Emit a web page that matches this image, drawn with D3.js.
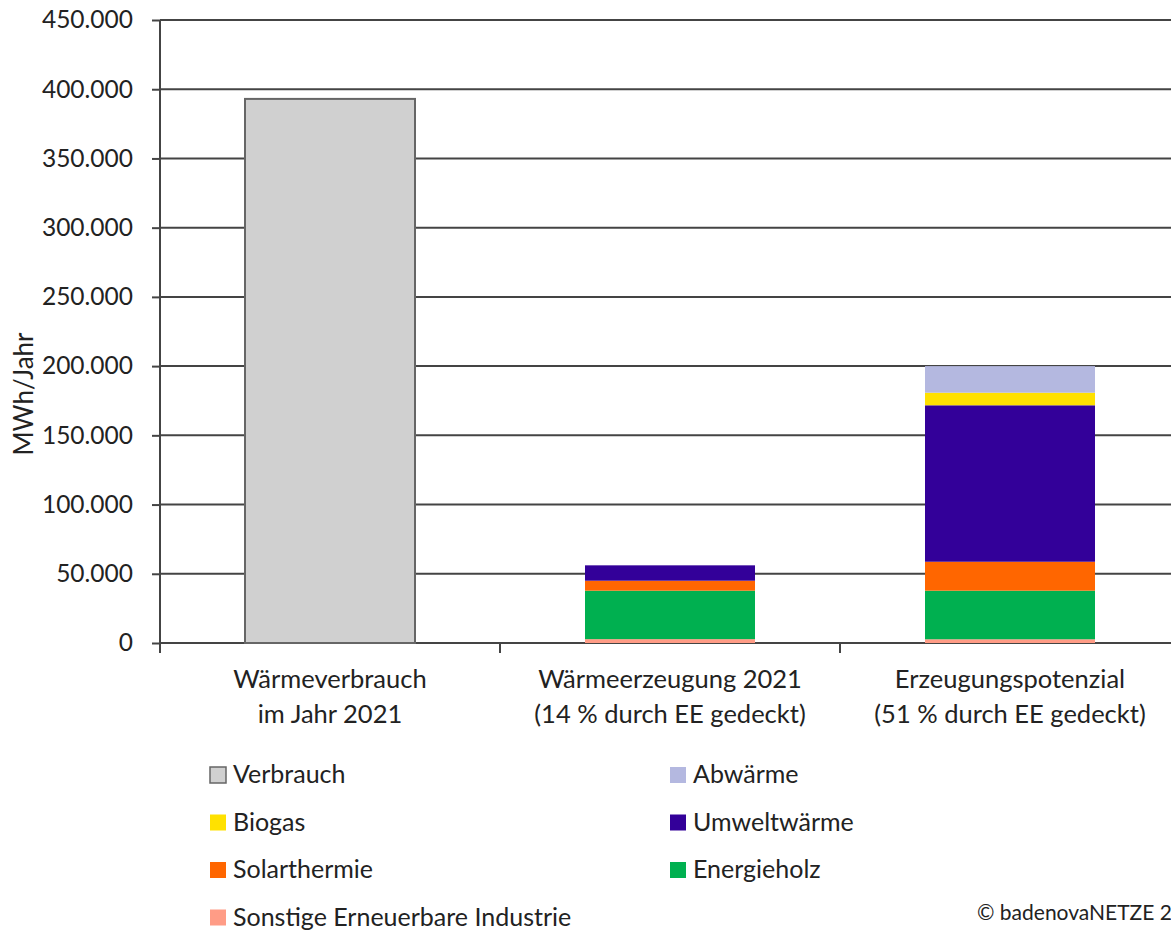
<!DOCTYPE html>
<html>
<head>
<meta charset="utf-8">
<script src="https://cdn.jsdelivr.net/npm/d3@7"></script>
<style>
  html, body { margin: 0; padding: 0; background: #fff; }
  svg { display: block; font-family: Lato, "Open Sans", sans-serif; }
</style>
</head>
<body>
<svg id="chart" width="1171" height="931"></svg>
<script>
// Categories (two-line labels) and series values in MWh/Jahr
const categories = ["verbrauch", "erzeugung", "potenzial"];
const categoryLabels = [
  ["Wärmeverbrauch", "im Jahr 2021"],
  ["Wärmeerzeugung 2021", "(14 % durch EE gedeckt)"],
  ["Erzeugungspotenzial", "(51 % durch EE gedeckt)"]
];
const seriesNames = ["Sonstige Erneuerbare Industrie", "Energieholz", "Solarthermie", "Umweltwärme", "Biogas", "Abwärme"];
const verbrauch = [393000, 0, 0];
const sonstige = [0, 2800, 2700];
const energieholz = [0, 35000, 35100];
const solarthermie = [0, 7200, 20900];
const umweltwaerme = [0, 11100, 113000];
const biogas = [0, 0, 9100];
const abwaerme = [0, 0, 19200];
const yTicks = [0, 50000, 100000, 150000, 200000, 250000, 300000, 350000, 400000, 450000];
const legendOrder = ["Verbrauch", "Abwärme", "Biogas", "Umweltwärme", "Solarthermie", "Energieholz", "Sonstige Erneuerbare Industrie"];

const colors = {
  "Verbrauch": "#d0d0d0",
  "Abwärme": "#b4b8e0",
  "Biogas": "#ffe100",
  "Umweltwärme": "#330099",
  "Solarthermie": "#ff6600",
  "Energieholz": "#00b050",
  "Sonstige Erneuerbare Industrie": "#ff9c86"
};

const rows = categories.map((c, i) => ({
  key: c,
  "Sonstige Erneuerbare Industrie": sonstige[i],
  "Energieholz": energieholz[i],
  "Solarthermie": solarthermie[i],
  "Umweltwärme": umweltwaerme[i],
  "Biogas": biogas[i],
  "Abwärme": abwaerme[i]
}));

const svg = d3.select("#chart");
const plotLeft = 160, plotRight = 1180, plotTop = 20, plotBottom = 643;

const x = d3.scaleBand().domain(categories).range([plotLeft, plotRight]).paddingInner(0.5).paddingOuter(0.25);
const y = d3.scaleLinear().domain([0, 450000]).range([plotBottom, plotTop]);

const fmt = d => d3.format(",")(d).replace(/,/g, ".");

// horizontal gridlines
svg.append("g").selectAll("line").data(yTicks).join("line")
  .attr("x1", plotLeft).attr("x2", plotRight)
  .attr("y1", d => y(d)).attr("y2", d => y(d))
  .attr("stroke", "#444").attr("stroke-width", 2);

// y axis tick marks and labels
const yAxis = svg.append("g").attr("transform", `translate(${plotLeft},0)`)
  .call(d3.axisLeft(y).tickValues(yTicks).tickSize(8).tickPadding(19).tickFormat(fmt));
yAxis.select(".domain").remove();
yAxis.selectAll(".tick line").attr("stroke", "#444").attr("stroke-width", 2);
yAxis.selectAll(".tick text").attr("font-size", 24.5).attr("fill", "#222")
  .attr("font-family", "Lato, sans-serif");

// vertical axis line
svg.append("line").attr("x1", plotLeft).attr("x2", plotLeft).attr("y1", plotTop).attr("y2", plotBottom + 10)
  .attr("stroke", "#444").attr("stroke-width", 2);

// category separator ticks, halfway between bands
const sepX = categories.slice(1).map(c => x(c) - (x.step() - x.bandwidth()) / 2);
svg.append("g").selectAll("line").data(sepX).join("line")
  .attr("x1", d => d).attr("x2", d => d).attr("y1", plotBottom).attr("y2", plotBottom + 10)
  .attr("stroke", "#444").attr("stroke-width", 2);

// consumption bar
svg.append("g").selectAll("rect").data(categories.filter((c, i) => verbrauch[i] > 0)).join("rect")
  .attr("x", c => x(c)).attr("width", x.bandwidth())
  .attr("y", c => y(verbrauch[categories.indexOf(c)]))
  .attr("height", c => y(0) - y(verbrauch[categories.indexOf(c)]))
  .attr("fill", colors["Verbrauch"]).attr("stroke", "#666").attr("stroke-width", 2);

// stacked renewable bars
const stack = d3.stack().keys(seriesNames)(rows);
svg.append("g").selectAll("g").data(stack).join("g")
  .attr("fill", s => colors[s.key])
  .selectAll("rect").data(s => s.filter(d => d[1] - d[0] > 0)).join("rect")
  .attr("x", d => x(d.data.key)).attr("width", x.bandwidth())
  .attr("y", d => y(d[1])).attr("height", d => y(d[0]) - y(d[1]));

// category labels
const catG = svg.append("g").selectAll("text").data(categories).join("text")
  .attr("text-anchor", "middle").attr("font-size", 25.5).attr("fill", "#222")
  .attr("x", c => x(c) + x.bandwidth() / 2);
catG.selectAll("tspan").data((c, i) => categoryLabels[i]).join("tspan")
  .attr("x", function () { return this.parentNode.getAttribute("x"); })
  .attr("y", (d, j) => 688 + j * 35)
  .text(d => d);

// y axis title
svg.append("text").attr("transform", "translate(33,394) rotate(-90)")
  .attr("text-anchor", "middle").attr("font-size", 26).attr("fill", "#222").text("MWh/Jahr");

// legend in two columns
const legend = svg.append("g");
legendOrder.forEach((name, i) => {
  const col = i % 2, row = Math.floor(i / 2);
  const lx = col === 0 ? 210 : 670;
  const ly = 775 + row * 47.5;
  legend.append("rect").attr("x", lx).attr("y", ly - 8).attr("width", 16).attr("height", 16)
    .attr("fill", colors[name])
    .attr("stroke", name === "Verbrauch" ? "#666" : "none").attr("stroke-width", 1.5);
  legend.append("text").attr("x", lx + 23).attr("y", ly + 8).attr("font-size", 25).attr("fill", "#222").text(name);
});

// copyright note
svg.append("text").attr("x", 977).attr("y", 920).attr("font-size", 21).attr("fill", "#222").text("© badenovaNETZE 2023");
</script>
</body>
</html>
